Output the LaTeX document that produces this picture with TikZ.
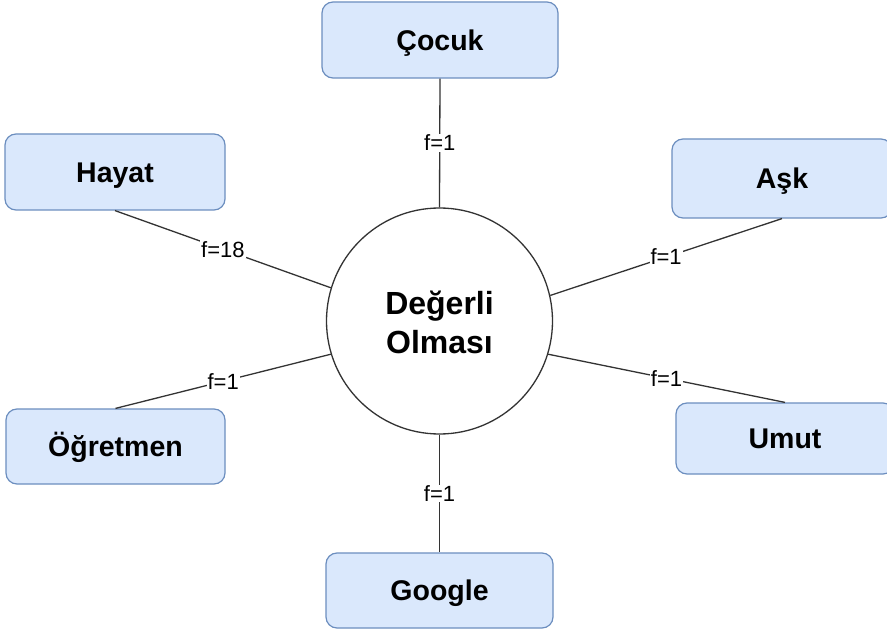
\documentclass[tikz,border=0pt]{standalone}
\usepackage{fontspec}
\setmainfont{Liberation Sans}
\definecolor{boxfill}{HTML}{DAE8FC}
\definecolor{boxline}{HTML}{6C8EBF}
\definecolor{inkline}{HTML}{333333}
\begin{document}
\begin{tikzpicture}[x=1pt,y=-1pt,
  topic/.style={draw=boxline,fill=boxfill,line width=1.2pt,rounded corners=11pt,
    inner sep=0pt,minimum height=76pt,text height=20.5pt,text depth=0pt,
    font=\fontsize{28.5}{34}\selectfont\bfseries},
  hub/.style={circle,draw=inkline,fill=white,line width=1.3pt,inner sep=0pt,
    minimum size=226pt},
  hubtext/.style={align=center,font=\fontsize{32}{38.4}\selectfont\bfseries},
  link/.style={draw=inkline,line width=1.3pt},
  freq/.style={fill=white,inner sep=1pt,font=\fontsize{22}{26}\selectfont}]
\clip (0,0) rectangle (887,631);
\fill[white] (0,0) rectangle (887,631);

% central concept
\node[hub] (c) at (439.5,321) {};
\node[hubtext] (ctext) at (439.5,322.5) {Değerli\\Olması};

% surrounding topics
\node[topic,minimum width=236pt] (cocuk) at (440,40) {Çocuk};
\node[topic,minimum width=220pt] (hayat) at (115,172) {Hayat};
\node[topic,minimum width=220pt,minimum height=79pt] (ask) at (782,178.5) {Aşk};
\node[topic,minimum width=219pt,minimum height=75pt] (ogr) at (115.5,446.5) {Öğretmen};
\node[topic,minimum width=218pt,minimum height=71pt] (umut) at (785,438.5) {Umut};
\node[topic,minimum width=227pt,minimum height=75pt] (google) at (439.5,590.5) {Google};

% weighted links
\draw[link] (cocuk.south) -- node[freq] {f=1} (c.north);
\draw[link] (hayat.south) -- node[freq] {f=18} (c.163);
\draw[link] (ask.south) -- node[freq] {f=1} (c.13);
\draw[link] (ogr.north) -- node[freq] {f=1} (c.197);
\draw[link] (umut.north) -- node[freq] {f=1} (c.343);
\draw[link] (c.south) -- node[freq] {f=1} (google.north);
\end{tikzpicture}
\end{document}
